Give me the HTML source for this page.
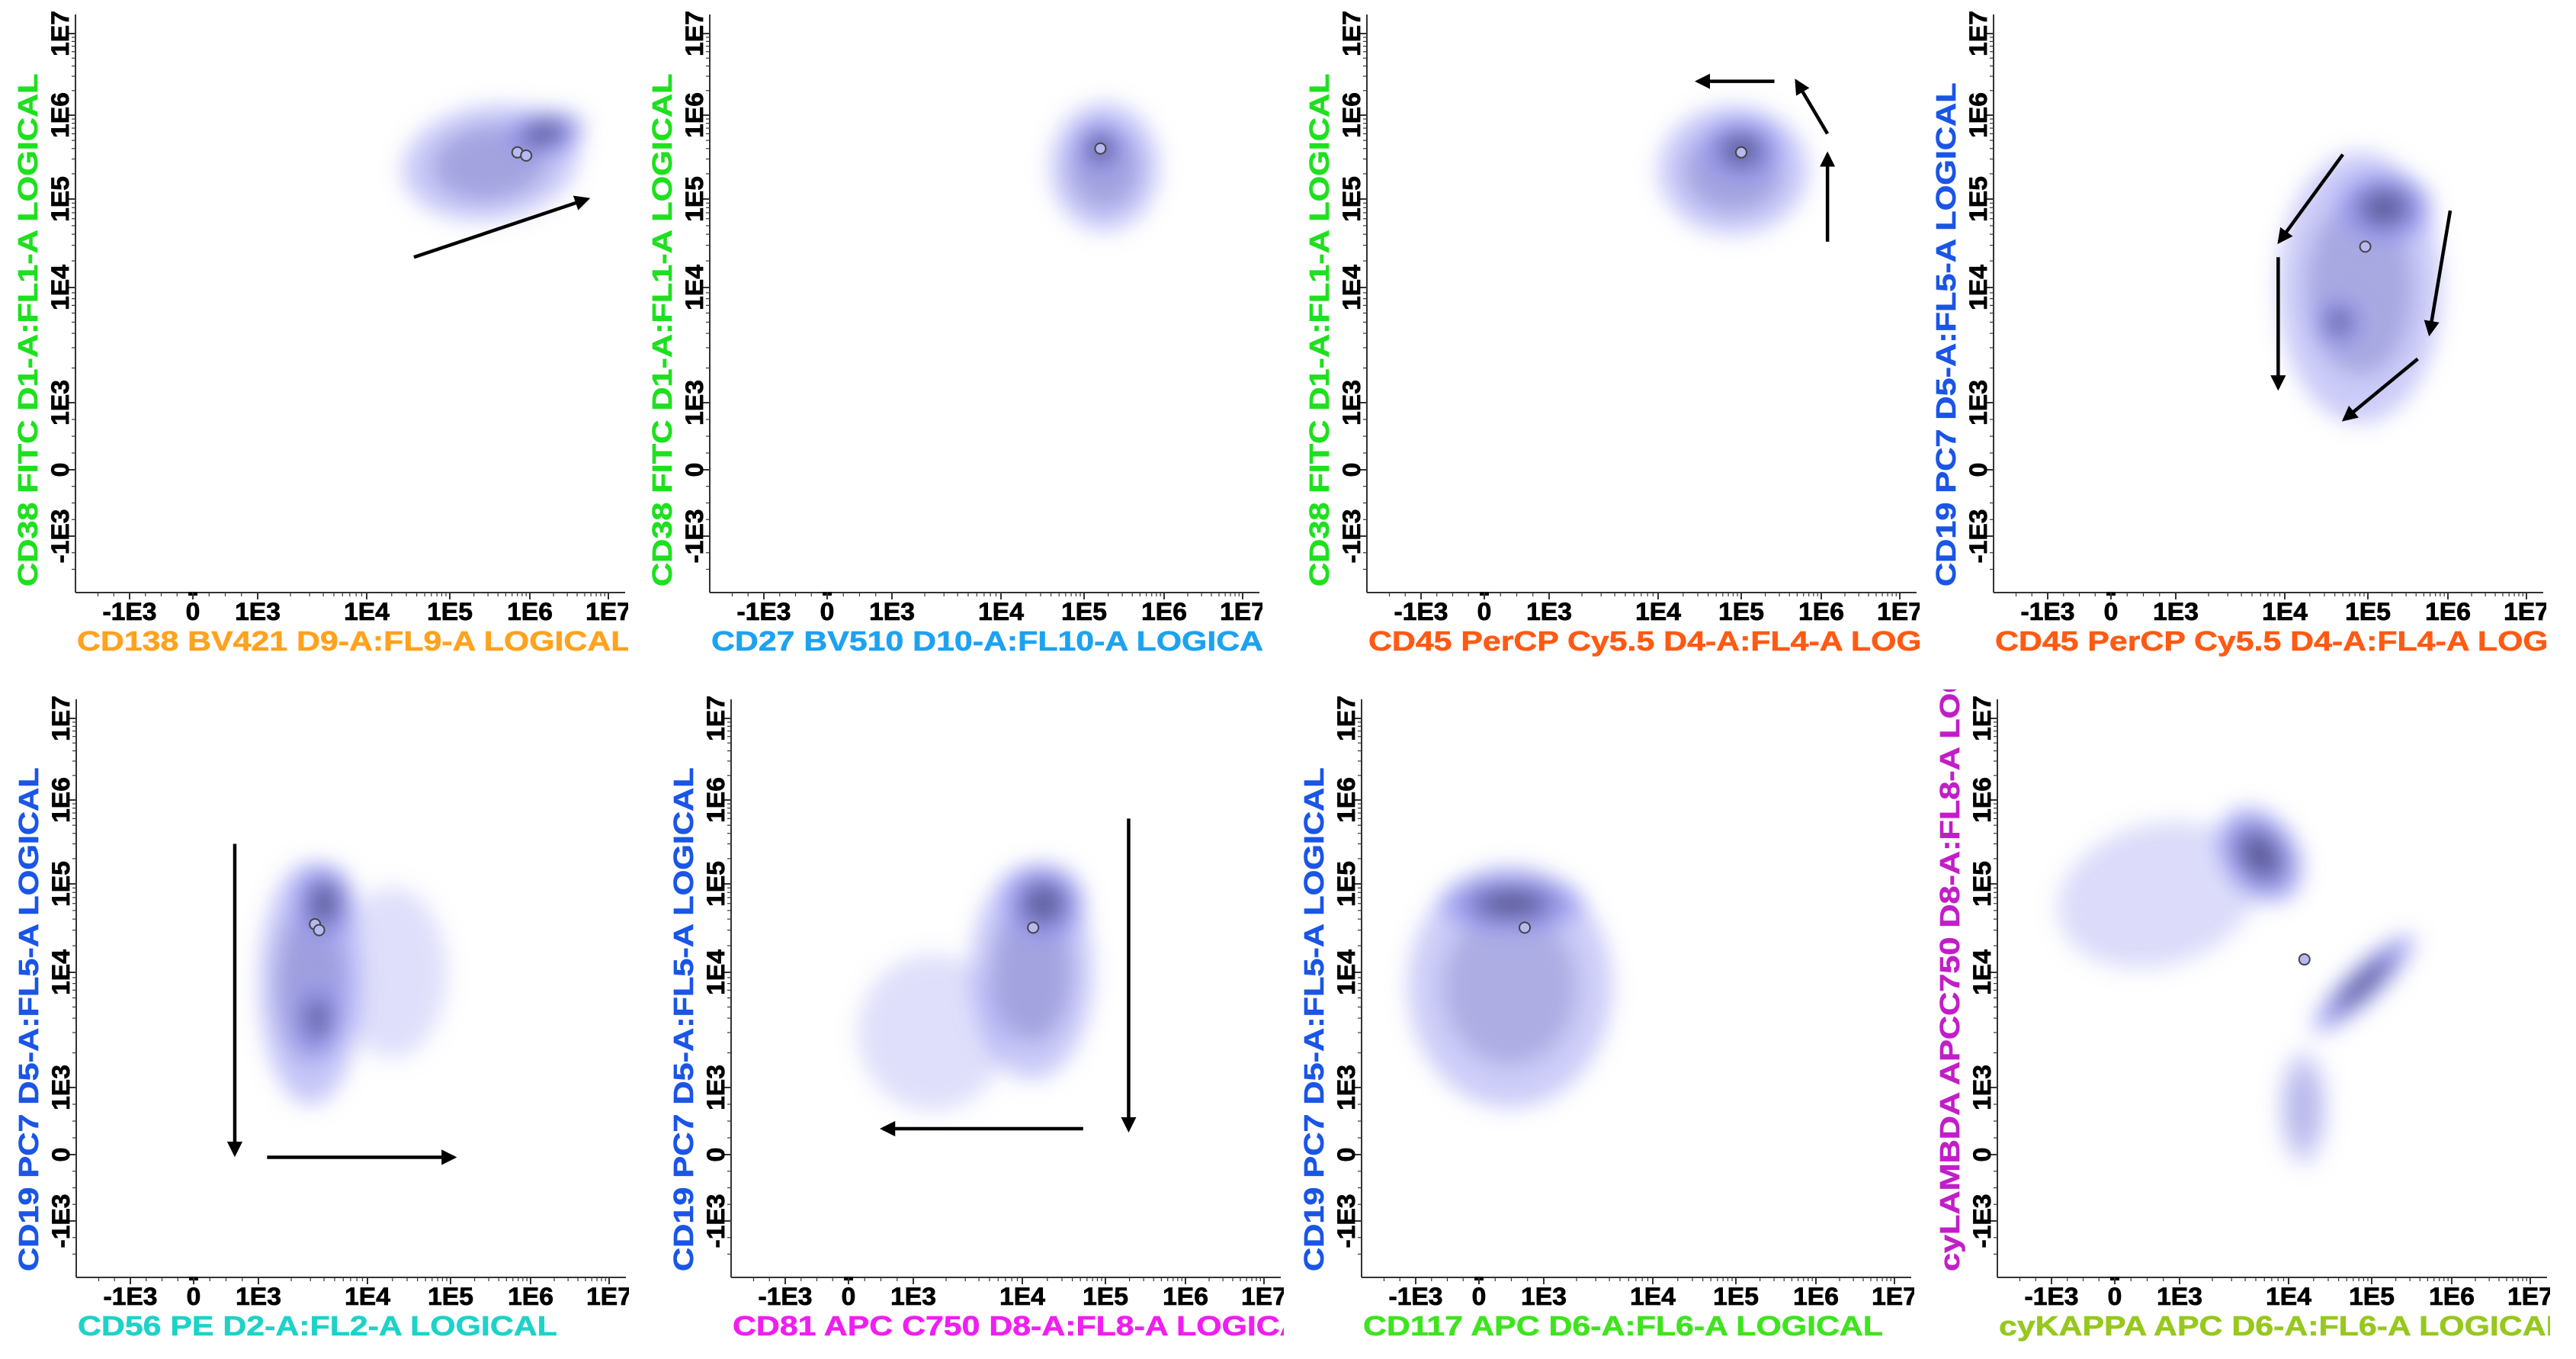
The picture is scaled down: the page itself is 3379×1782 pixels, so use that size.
<!DOCTYPE html>
<html><head><meta charset="utf-8"><style>
html,body{margin:0;padding:0;background:#fff;}
svg{display:block;font-family:"Liberation Sans",Arial,sans-serif;font-weight:bold;}
</style></head><body>
<svg id="chart" width="3379" height="1782" viewBox="0 0 3379 1782" xmlns="http://www.w3.org/2000/svg">
<defs>
<filter id="blur" x="-60%" y="-60%" width="220%" height="220%"><feGaussianBlur stdDeviation="14"/></filter>
<marker id="ah" viewBox="0 0 10 10" refX="8" refY="5" markerWidth="4.5" markerHeight="4.5" orient="auto"><path d="M0,0 L10,5 L0,10 z" fill="#000"/></marker>
</defs>
</svg>
<script>
// ---- panel layout / labels ----
const panelAxisX=[99,931,1793,2615,100,959,1786,2620];
const panelBottom=[777,777,777,777,1675,1675,1675,1675];
const yLabels=["CD38 FITC D1-A:FL1-A LOGICAL","CD38 FITC D1-A:FL1-A LOGICAL","CD38 FITC D1-A:FL1-A LOGICAL","CD19 PC7 D5-A:FL5-A LOGICAL","CD19 PC7 D5-A:FL5-A LOGICAL","CD19 PC7 D5-A:FL5-A LOGICAL","CD19 PC7 D5-A:FL5-A LOGICAL","cyLAMBDA APCC750 D8-A:FL8-A LOGICAL"];
const yColors=["#1ee01e","#1ee01e","#1ee01e","#1a55e6","#1a55e6","#1a55e6","#1a55e6","#c21ec8"];
const xLabels=["CD138 BV421 D9-A:FL9-A LOGICAL","CD27 BV510 D10-A:FL10-A LOGICAL","CD45 PerCP Cy5.5 D4-A:FL4-A LOGICAL","CD45 PerCP Cy5.5 D4-A:FL4-A LOGICAL","CD56 PE D2-A:FL2-A LOGICAL","CD81 APC C750 D8-A:FL8-A LOGICAL","CD117 APC D6-A:FL6-A LOGICAL","cyKAPPA APC D6-A:FL6-A LOGICAL"];
const xColors=["#ffa21e","#1ea2f0","#ff5a14","#ff5a14","#1ed2c8","#f01ef0","#3ee41e","#96c81e"];
// ---- axis ticks ----
const tickValues=[-1e3,0,1e3,1e4,1e5,1e6,1e7];
const tickLabels=["-1E3","0","1E3","1E4","1E5","1E6","1E7"];
// ---- populations (cluster data) ----
const clusterPanel=[0,0,1,1,2,2,3,3,3,4,4,4,4,5,5,5,6,6,7,7,7,7];
const clusterX=[3.2e5,1.5e6,1.8e5,1.6e5,8e4,1e5,8e4,1.6e5,4.5e4,2e4,3e3,3.5e3,4e3,1.5e3,1.3e4,1.8e4,480,500,660,5.5e3,8e4,1.5e4];
const clusterY=[2.7e5,6e5,2.4e5,4e5,2.2e5,3.8e5,1e4,8e4,5e3,1e4,8e3,4e3,6e4,3e3,1e4,6e4,7.5e3,6e4,7.5e4,2.2e5,8e3,700];
const clusterSpreadX=[1.3,.6,.8,.38,1.1,.6,1.2,.7,.38,.8,.75,.38,.45,1.1,.9,.6,1.5,1.05,1.5,.55,1.0,.35];
const clusterSpreadY=[.8,.32,.9,.38,.9,.45,1.9,.5,.38,1.2,1.7,.55,.55,1.1,1.5,.55,1.7,.42,1.0,.72,.25,.8];
const clusterDensity=[.5,1,.5,1,.5,1,.45,1,.8,.05,.55,.8,1,.05,.5,1,.4,1,.1,1,1,.3];
const clusterAngle=[-8,-10,0,0,0,0,0,0,0,0,0,0,0,0,0,0,0,0,-15,-35,-44,0];
// ---- gate markers ----
const markerPanel=[0,0,1,2,3,4,4,5,6,7];
const markerX=[7e5,9e5,1.6e5,1e5,9.3e4,3.3e3,3.6e3,1.35e4,706,1.55e4];
const markerY=[3.6e5,3.3e5,4e5,3.6e5,2.9e4,3.5e4,3e4,3.2e4,3.2e4,1.4e4];
// ---- arrows ----
const arrowPanel=[0,2,2,2,3,3,3,3,4,4,5,5];
const arrowX1=[3.7e4,1.2e6,1.2e6,2.6e5,5e4,8.7e3,1.07e6,4.2e5,635,1.2e3,1.95e5,5.4e4];
const arrowY1=[2.2e4,3.3e4,6e5,2.6e6,3.4e5,2.2e4,7.4e4,2.4e3,3e5,-40,6e5,386];
const arrowX2=[5.4e6,1.2e6,4.9e5,3e4,8.9e3,8.7e3,5.9e5,5.2e4,635,1.1e5,1.95e5,530];
const arrowY2=[1e5,3.4e5,2.6e6,2.6e6,3.3e4,1.35e3,4e3,750,10,-40,375,386];

const xTickPos=[71,154,239,382,491,596,699];
const yTickPos=[74,161,249,400,516,626,733];
const NS="http://www.w3.org/2000/svg";
const svg=document.getElementById('chart');
function pos(v,tp){
  if(v>=1e3){const u=Math.log10(v);let d=Math.min(Math.max(Math.floor(u),3),6);
    const i=d-1;return tp[i]+(u-d)*(tp[i+1]-tp[i]);}
  if(v>=0)return tp[1]+v/1e3*(tp[2]-tp[1]);
  return tp[1]+v/1e3*(tp[1]-tp[0]);
}
function X(p,v){return panelAxisX[p]+pos(v,xTickPos);}
function Y(p,v){return panelBottom[p]-pos(v,yTickPos);}
function mk(tag,attrs,parent){const e=document.createElementNS(NS,tag);for(const k in attrs)e.setAttribute(k,attrs[k]);(parent||svg).appendChild(e);return e;}

for(let p=0;p<8;p++){
  const ax=panelAxisX[p],bt=panelBottom[p],top=bt-758;
  const cp=mk('clipPath',{id:'clip'+p});
  mk('rect',{x:ax-110,y:top-13,width:Math.min(835,3372-(ax-110)),height:bt-top+113},cp);
  const g=mk('g',{'clip-path':'url(#clip'+p+')'});
  
  
  const cg=mk('g',{filter:'url(#blur)'},g);
  
  
  for(let i=0;i<clusterPanel.length;i++){if(clusterPanel[i]!==p)continue;
    const cx=X(p,clusterX[i]),cy=Y(p,clusterY[i]),rx=clusterSpreadX[i]*105,ry=clusterSpreadY[i]*110,d=clusterDensity[i];
    const layers=[[0.85,'#9c9cf2',0.3+0.5*d],[0.55,'#7676c0',d>=0.3?0.9*d:0],[0.32,'#56568f',d>=0.8?0.85*d:0]];
    layers.forEach(L=>{if(L[2]<=0)return;
      const e=mk('ellipse',{cx:cx,cy:cy,rx:rx*L[0],ry:ry*L[0],fill:L[1],opacity:L[2],transform:'rotate('+clusterAngle[i]+' '+cx+' '+cy+')'},cg);
      
      
    });
  }
  const axg=mk('g',{stroke:'#333','stroke-width':2},g);
  
  
  mk('line',{x1:ax,y1:top,x2:ax,y2:bt},axg);
  mk('line',{x1:ax,y1:bt,x2:ax+721,y2:bt},axg);
  for(let d=3;d<7;d++)for(let k=2;k<10;k++){const v=k*Math.pow(10,d);
    mk('line',{x1:X(p,v),y1:bt,x2:X(p,v),y2:bt+5,'stroke-width':1.2},axg);
    mk('line',{x1:ax,y1:Y(p,v),x2:ax-5,y2:Y(p,v),'stroke-width':1.2},axg);}
  for(let v=-1500;v<1000;v+=250){mk('line',{x1:X(p,v),y1:bt,x2:X(p,v),y2:bt+5,'stroke-width':1.2},axg);mk('line',{x1:ax,y1:Y(p,v),x2:ax-5,y2:Y(p,v),'stroke-width':1.2},axg);}
  mk('rect',{x:X(p,0)-6,y:bt-1,width:12,height:5,fill:'#000',stroke:'none'},axg);
  for(let t=0;t<tickValues.length;t++){
    mk('line',{x1:X(p,tickValues[t]),y1:bt,x2:X(p,tickValues[t]),y2:bt+9},axg);
    mk('line',{x1:ax,y1:Y(p,tickValues[t]),x2:ax-9,y2:Y(p,tickValues[t])},axg);
    const tx=mk('text',{x:0,y:0,'text-anchor':'middle','font-size':32,fill:'#000',stroke:'#000','stroke-width':0.8,transform:'translate('+X(p,tickValues[t])+','+(bt+36)+') scale(1.05,1)'},g);
    tx.textContent=tickLabels[t];
    
    
    const ty=mk('text',{x:0,y:0,'text-anchor':'middle','font-size':32,fill:'#000',stroke:'#000','stroke-width':0.8,transform:'translate('+(ax-9)+','+Y(p,tickValues[t])+') rotate(-90) scale(1.05,1)'},g);
    ty.textContent=tickLabels[t];
    
    
  }
  for(let i=0;i<arrowPanel.length;i++){if(arrowPanel[i]!==p)continue;
    const a=mk('line',{x1:X(p,arrowX1[i]),y1:Y(p,arrowY1[i]),x2:X(p,arrowX2[i]),y2:Y(p,arrowY2[i]),stroke:'#000','stroke-width':4.5,'marker-end':'url(#ah)'},g);
    
    
  }
  for(let i=0;i<markerPanel.length;i++){if(markerPanel[i]!==p)continue;
    const m=mk('circle',{cx:X(p,markerX[i]),cy:Y(p,markerY[i]),r:7,fill:'#b8b8f2',stroke:'#444','stroke-width':2},g);
    
    
  }
  const xl=mk('text',{x:0,y:0,'font-size':36,fill:xColors[p],stroke:xColors[p],'stroke-width':0.6,transform:'translate('+(ax+2)+','+(bt+76)+') scale(1.19,1)'},g);
  xl.textContent=xLabels[p];
  
  
  const yl=mk('text',{x:0,y:0,'font-size':36,fill:yColors[p],stroke:yColors[p],'stroke-width':0.6,transform:'translate('+(ax-50)+','+(bt-8)+') rotate(-90) scale(1.2,1)'},g);
  yl.textContent=yLabels[p];
  
  
}
</script>
</body></html>
